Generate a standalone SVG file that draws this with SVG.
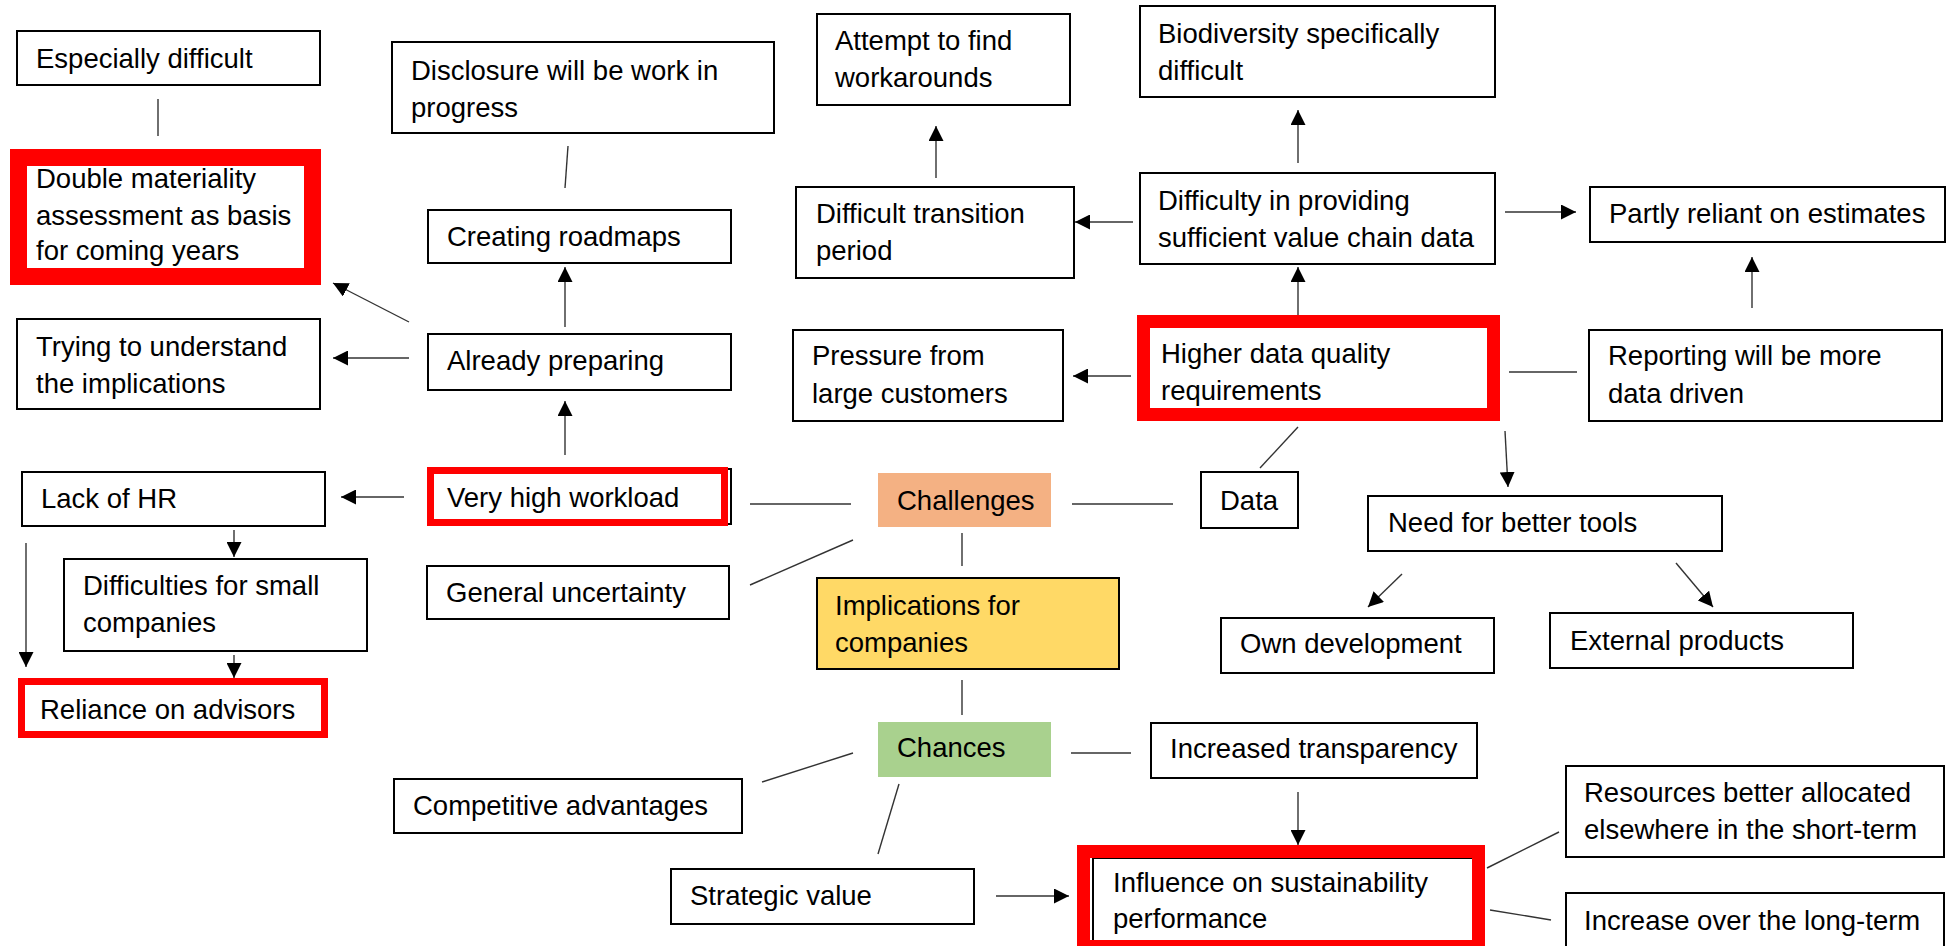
<svg xmlns="http://www.w3.org/2000/svg" width="1946" height="946" viewBox="0 0 1946 946">
<style>
.box{fill:#fff;stroke:#000;stroke-width:2}
.red{fill:none;stroke:#FF0000}
.t{font-family:"Liberation Sans",Arial,sans-serif;font-size:27.5px;fill:#000}
.c{stroke:#333;stroke-width:1.4;fill:none}
.a{marker-end:url(#arr)}
</style>
<defs>
<marker id="arr" markerUnits="userSpaceOnUse" markerWidth="15" markerHeight="15" refX="15" refY="7.5" orient="auto">
<path d="M0,0 L15,7.5 L0,15 Z" fill="#000"/>
</marker>
</defs>
<rect width="1946" height="946" fill="#fff"/>
<g id="connectors">
<line class="c" x1="158" y1="99" x2="158" y2="136"/>
<line class="c" x1="568" y1="146" x2="565" y2="188"/>
<line class="c a" x1="565" y1="327" x2="565" y2="267"/>
<line class="c a" x1="409" y1="322" x2="333" y2="283"/>
<line class="c a" x1="409" y1="358" x2="333" y2="358"/>
<line class="c a" x1="565" y1="455" x2="565" y2="401"/>
<line class="c a" x1="404" y1="497" x2="341" y2="497"/>
<line class="c a" x1="234" y1="530" x2="234" y2="557"/>
<line class="c a" x1="26" y1="543" x2="26" y2="667"/>
<line class="c a" x1="234" y1="655" x2="234" y2="678"/>
<line class="c" x1="750" y1="504" x2="851" y2="504"/>
<line class="c" x1="853" y1="540" x2="750" y2="585"/>
<line class="c" x1="962" y1="533" x2="962" y2="566"/>
<line class="c" x1="962" y1="680" x2="962" y2="715"/>
<line class="c" x1="853" y1="753" x2="762" y2="782"/>
<line class="c" x1="899" y1="784" x2="878" y2="854"/>
<line class="c" x1="1071" y1="753" x2="1131" y2="753"/>
<line class="c a" x1="1298" y1="792" x2="1298" y2="845"/>
<line class="c a" x1="996" y1="896" x2="1069" y2="896"/>
<line class="c" x1="1487" y1="868" x2="1559" y2="832"/>
<line class="c" x1="1490" y1="910" x2="1551" y2="920"/>
<line class="c" x1="1072" y1="504" x2="1173" y2="504"/>
<line class="c" x1="1298" y1="427" x2="1260" y2="468"/>
<line class="c a" x1="1131" y1="376" x2="1073" y2="376"/>
<line class="c a" x1="1298" y1="315" x2="1298" y2="267"/>
<line class="c a" x1="1298" y1="163" x2="1298" y2="110"/>
<line class="c a" x1="1133" y1="222" x2="1075" y2="222"/>
<line class="c a" x1="936" y1="178" x2="936" y2="126"/>
<line class="c a" x1="1505" y1="212" x2="1576" y2="212"/>
<line class="c a" x1="1752" y1="308" x2="1752" y2="257"/>
<line class="c" x1="1509" y1="372" x2="1577" y2="372"/>
<line class="c a" x1="1505" y1="431" x2="1508" y2="487"/>
<line class="c a" x1="1402" y1="574" x2="1368" y2="607"/>
<line class="c a" x1="1676" y1="563" x2="1713" y2="607"/>
</g>
<g id="n-especially"><rect class="box" x="17" y="31" width="303" height="54"/><text class="t" x="36" y="68">Especially difficult</text></g>
<g id="n-double"><rect x="18.5" y="157.5" width="294" height="119" fill="#fff"/><rect class="red" x="18.5" y="157.5" width="294" height="119" stroke-width="17"/><text class="t"><tspan x="36" y="188">Double materiality</tspan><tspan x="36" y="225">assessment as basis</tspan><tspan x="36" y="260">for coming years</tspan></text></g>
<g id="n-disclosure"><rect class="box" x="392" y="42" width="382" height="91"/><text class="t"><tspan x="411" y="80">Disclosure will be work in</tspan><tspan x="411" y="117">progress</tspan></text></g>
<g id="n-roadmaps"><rect class="box" x="428" y="210" width="303" height="53"/><text class="t" x="447" y="246">Creating roadmaps</text></g>
<g id="n-already"><rect class="box" x="428" y="334" width="303" height="56"/><text class="t" x="447" y="370">Already preparing</text></g>
<g id="n-trying"><rect class="box" x="17" y="319" width="303" height="90"/><text class="t"><tspan x="36" y="356">Trying to understand</tspan><tspan x="36" y="393">the implications</tspan></text></g>
<g id="n-workload"><rect class="box" x="428" y="469" width="303" height="55"/><rect class="red" x="430.5" y="470.5" width="294" height="52" stroke-width="7"/><text class="t" x="447" y="507">Very high workload</text></g>
<g id="n-lackhr"><rect class="box" x="22" y="472" width="303" height="54"/><text class="t" x="41" y="508">Lack of HR</text></g>
<g id="n-difficulties"><rect class="box" x="64" y="559" width="303" height="92"/><text class="t"><tspan x="83" y="595">Difficulties for small</tspan><tspan x="83" y="632">companies</tspan></text></g>
<g id="n-reliance"><rect x="21.5" y="681.5" width="303" height="53" fill="#fff"/><rect class="red" x="21.5" y="681.5" width="303" height="53" stroke-width="7"/><text class="t" x="40" y="719">Reliance on advisors</text></g>
<g id="n-general"><rect class="box" x="427" y="566" width="302" height="53"/><text class="t" x="446" y="602">General uncertainty</text></g>
<g id="n-challenges"><rect x="878" y="473" width="173" height="54" fill="#F4B183"/><text class="t" x="897" y="510">Challenges</text></g>
<g id="n-implications"><rect x="817" y="578" width="302" height="91" fill="#FFD966" stroke="#000" stroke-width="2"/><text class="t"><tspan x="835" y="615">Implications for</tspan><tspan x="835" y="652">companies</tspan></text></g>
<g id="n-chances"><rect x="878" y="722" width="173" height="55" fill="#A9D18E"/><text class="t" x="897" y="757">Chances</text></g>
<g id="n-competitive"><rect class="box" x="394" y="779" width="348" height="54"/><text class="t" x="413" y="815">Competitive advantages</text></g>
<g id="n-strategic"><rect class="box" x="671" y="869" width="303" height="55"/><text class="t" x="690" y="905">Strategic value</text></g>
<g id="n-increased"><rect class="box" x="1151" y="723" width="326" height="55"/><text class="t" x="1170" y="758">Increased transparency</text></g>
<g id="n-influence"><rect class="box" x="1093" y="858" width="385" height="100"/><rect class="red" x="1083.5" y="851.5" width="395" height="95" stroke-width="13"/><text class="t"><tspan x="1113" y="892">Influence on sustainability</tspan><tspan x="1113" y="928">performance</tspan></text></g>
<g id="n-resources"><rect class="box" x="1566" y="766" width="378" height="91"/><text class="t"><tspan x="1584" y="802">Resources better allocated</tspan><tspan x="1584" y="839">elsewhere in the short-term</tspan></text></g>
<g id="n-increase"><rect class="box" x="1566" y="893" width="378" height="60"/><text class="t" x="1584" y="930">Increase over the long-term</text></g>
<g id="n-pressure"><rect class="box" x="793" y="330" width="270" height="91"/><text class="t"><tspan x="812" y="365">Pressure from</tspan><tspan x="812" y="403">large customers</tspan></text></g>
<g id="n-higher"><rect x="1143.5" y="321.5" width="350" height="93" fill="#fff"/><rect class="red" x="1143.5" y="321.5" width="350" height="93" stroke-width="13"/><text class="t"><tspan x="1161" y="363">Higher data quality</tspan><tspan x="1161" y="400">requirements</tspan></text></g>
<g id="n-data"><rect class="box" x="1201" y="472" width="97" height="56"/><text class="t" x="1220" y="510">Data</text></g>
<g id="n-need"><rect class="box" x="1368" y="496" width="354" height="55"/><text class="t" x="1388" y="532">Need for better tools</text></g>
<g id="n-own"><rect class="box" x="1221" y="618" width="273" height="55"/><text class="t" x="1240" y="653">Own development</text></g>
<g id="n-external"><rect class="box" x="1550" y="613" width="303" height="55"/><text class="t" x="1570" y="650">External products</text></g>
<g id="n-reporting"><rect class="box" x="1589" y="330" width="353" height="91"/><text class="t"><tspan x="1608" y="365">Reporting will be more</tspan><tspan x="1608" y="403">data driven</tspan></text></g>
<g id="n-partly"><rect class="box" x="1590" y="187" width="355" height="55"/><text class="t" x="1609" y="223">Partly reliant on estimates</text></g>
<g id="n-difficulty"><rect class="box" x="1140" y="173" width="355" height="91"/><text class="t"><tspan x="1158" y="210">Difficulty in providing</tspan><tspan x="1158" y="247">sufficient value chain data</tspan></text></g>
<g id="n-biodiversity"><rect class="box" x="1140" y="6" width="355" height="91"/><text class="t"><tspan x="1158" y="43">Biodiversity specifically</tspan><tspan x="1158" y="80">difficult</tspan></text></g>
<g id="n-transition"><rect class="box" x="796" y="187" width="278" height="91"/><text class="t"><tspan x="816" y="223">Difficult transition</tspan><tspan x="816" y="260">period</tspan></text></g>
<g id="n-attempt"><rect class="box" x="817" y="14" width="253" height="91"/><text class="t"><tspan x="835" y="50">Attempt to find</tspan><tspan x="835" y="87">workarounds</tspan></text></g>
</svg>
